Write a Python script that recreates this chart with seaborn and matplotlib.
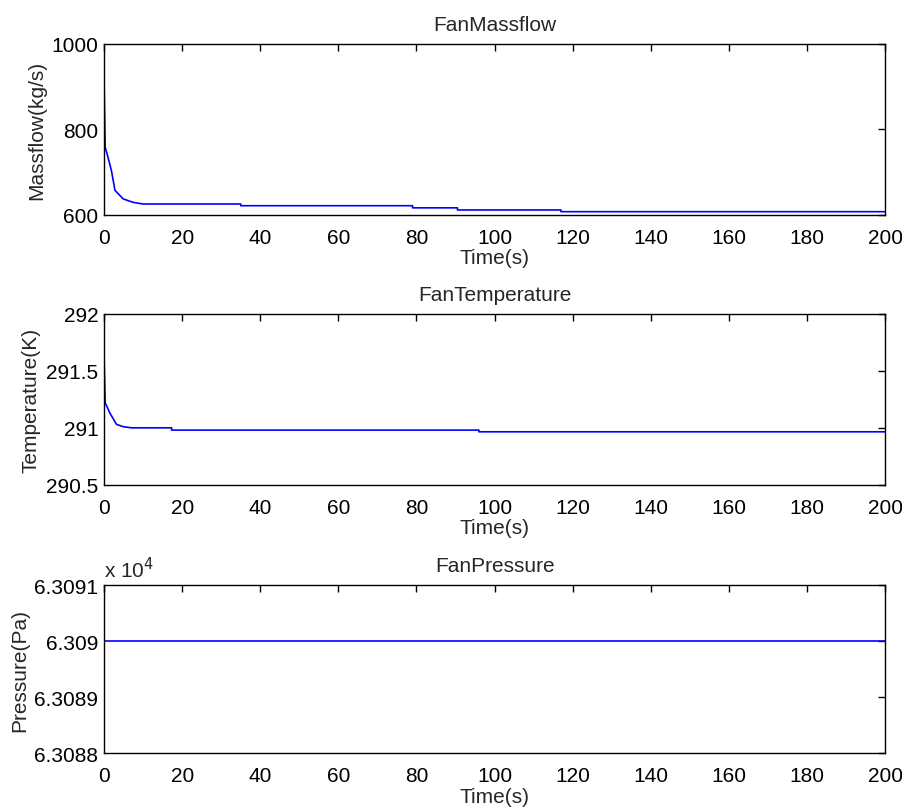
import numpy as np
import pandas as pd
import matplotlib
matplotlib.use('Agg')
import matplotlib.pyplot as plt
import seaborn as sns
from matplotlib.ticker import FuncFormatter

sns.set_style('white')
plt.rcParams['font.family'] = ['Liberation Sans', 'DejaVu Sans']
plt.rcParams['font.size'] = 15

# fan massflow (kg/s)
mass_t = [0, 0.3, 1.0, 1.9, 2.8, 4.9, 7.4, 10, 35, 35, 79, 79, 90.5, 90.5, 117, 117, 200]
mass = [918, 758, 735, 703, 657, 637, 629, 625, 625, 621, 621, 616, 616, 611, 611, 607, 607]

# fan temperature (K)
temp_t = [0, 0.3, 1.5, 3.2, 4.9, 7, 17.3, 17.3, 96, 96, 200]
temp = [291.63, 291.22, 291.13, 291.03, 291.01, 291.0, 291.0, 290.98, 290.98, 290.965, 290.965]

# fan pressure (Pa)
press_t = [0, 200]
press = [63090, 63090]

fig = plt.figure(figsize=(9.03, 8.12), dpi=100)
positions = [
    [0.1152, 0.7344, 0.865, 0.2102],
    [0.1152, 0.4018, 0.865, 0.2103],
    [0.1152, 0.0714, 0.865, 0.2069],
]

panels = [
    (mass_t, mass, 'FanMassflow', 'Massflow(kg/s)', (600, 1000), [600, 800, 1000]),
    (temp_t, temp, 'FanTemperature', 'Temperature(K)', (290.5, 292), [290.5, 291, 291.5, 292]),
    (press_t, press, 'FanPressure', 'Pressure(Pa)', (63088, 63091), [63088, 63089, 63090, 63091]),
]

for i, (t, v, title, ylab, ylim, yticks) in enumerate(panels):
    ax = fig.add_axes(positions[i])
    df = pd.DataFrame({'t': t, 'v': v})
    sns.lineplot(data=df, x='t', y='v', estimator=None, sort=False,
                 color='#0000ff', linewidth=1.2, ax=ax)
    ax.set_xlim(0, 200)
    ax.set_ylim(*ylim)
    ax.set_xticks(np.arange(0, 201, 20))
    ax.set_yticks(yticks)
    if i == 2:
        ax.yaxis.set_major_formatter(FuncFormatter(lambda y, p: f'{y / 1e4:.5g}'))
        ax.text(0.0, 1.02, r'x 10$^{4}$', transform=ax.transAxes, fontsize=15, va='bottom')
    else:
        ax.yaxis.set_major_formatter(FuncFormatter(lambda y, p: f'{y:g}'))
    ax.tick_params(direction='in', top=True, right=True, length=5, width=1,
                   labelsize=15, colors='black')
    ax.tick_params(axis='x', pad=9.5)
    ax.tick_params(axis='y', pad=4)
    for s in ax.spines.values():
        s.set_color('black')
        s.set_linewidth(1)
    ax.set_title(title, fontsize=15, pad=10)
    ax.set_xlabel('Time(s)', fontsize=15, labelpad=1)
    ax.set_ylabel(ylab, fontsize=15, labelpad=4)

fig.savefig('out.png', dpi=100)
